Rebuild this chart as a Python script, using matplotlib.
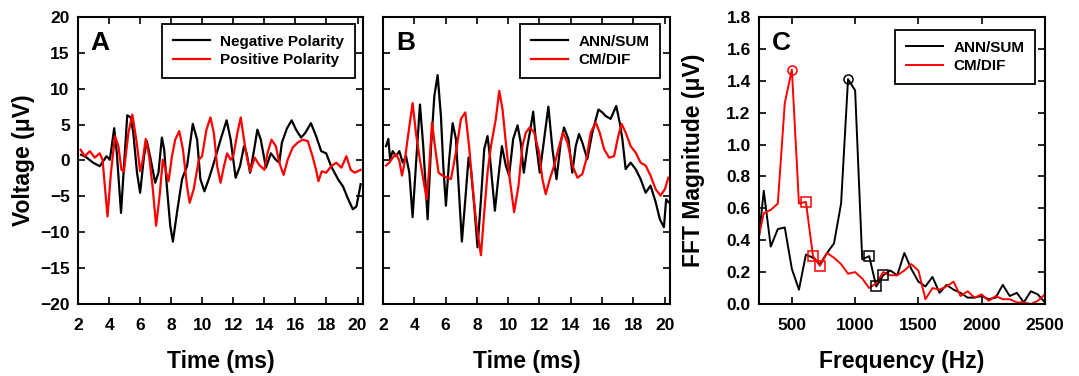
import matplotlib
matplotlib.use('Agg')
import matplotlib.pyplot as plt
import numpy as np

plt.rcParams['font.family'] = ['Liberation Sans', 'DejaVu Sans']
plt.rcParams['font.weight'] = 'bold'

# panel A: polarity waveforms (ms, uV)
t_neg = [2.2, 2.5, 2.97, 3.4, 3.84, 4.05, 4.33, 4.5, 4.77, 4.96, 5.17, 5.4, 5.56, 5.8,
         6.0, 6.25, 6.43, 6.64, 6.97, 7.18, 7.4, 7.55, 7.72, 7.94, 8.11, 8.37, 8.7,
         9.02, 9.39, 9.67, 9.88, 10.14, 10.42, 10.75, 11.18, 11.57, 11.83, 12.15,
         12.43, 12.69, 12.86, 13.08, 13.34, 13.55, 13.77, 14.1, 14.42, 14.74, 14.96,
         15.13, 15.46, 15.76, 16.04, 16.36, 16.62, 17.0, 17.33, 17.66, 17.98, 18.3,
         18.74, 19.06, 19.4, 19.7, 19.93, 20.2]
v_neg = [0.8, 0.5, -0.3, -0.8, 0.6, 0.1, 4.5, 1.0, -7.3, -0.8, 6.3, 6.0, 3.8, -1.7,
         -4.5, 0.6, 2.7, 0.6, -3.1, -1.7, 3.2, 1.5, -3.6, -9.1, -11.3, -7.3, -2.6,
         -0.8, 5.1, 2.9, -2.6, -4.3, -2.6, -0.3, 2.9, 5.6, 2.9, -2.4,
         -0.8, 2.0, 1.0, -1.7, 1.5, 4.3, 2.9, -1.0, 1.0, 0.1, -0.3,
         2.5, 4.5, 5.6, 4.3, 3.2, 3.8, 5.2, 3.4, 1.3, 1.0, -0.8,
         -2.6, -3.6, -5.4, -6.8, -6.4, -3.3]
t_pos = [2.17, 2.43, 2.76, 3.08, 3.4, 3.58, 3.73, 3.9, 4.12, 4.38, 4.6, 4.8, 4.96,
         5.24, 5.5, 5.78, 6.0, 6.17, 6.36, 6.58, 6.8, 7.03, 7.25, 7.46, 7.68, 7.83,
         8.05, 8.26, 8.52, 8.76, 9.02, 9.19, 9.45, 9.78, 9.99, 10.27, 10.53, 10.75,
         10.96, 11.18, 11.4, 11.6, 11.83, 12.0, 12.26, 12.48, 12.69, 12.9, 13.1,
         13.38, 13.66, 14.0, 14.2, 14.46, 14.74, 14.96, 15.24, 15.5, 15.82, 16.15,
         16.47, 16.8, 17.1, 17.33, 17.48, 17.7, 17.98, 18.3, 18.63, 18.96, 19.28,
         19.56, 19.82, 20.2]
v_pos = [1.5, 0.6, 1.3, 0.4, 1.0, 0.1, -3.6, -7.8, -1.7, 3.4, 2.0, -1.3, -1.5,
         3.8, 6.4, 2.5, -1.5, 0.1, 3.0, 0.6, -3.6, -9.1, -5.0, 0.1, -1.7, -2.9,
         0.6, 2.9, 4.1, 1.5, -3.6, -5.9, -4.0, 0.1, 0.6, 4.3, 6.0, 3.8,
         -0.8, -3.1, -0.8, 1.0, 0.1, 0.6, 3.8, 6.0, 2.9, 0.1, -1.5,
         0.4, -0.6, -1.3, 1.0, 2.9, 2.0, -0.3, -2.0, 0.1, 1.8, 2.5,
         2.9, 2.7, 0.6, -1.3, -2.9, -1.5, -1.7, -0.8, -0.3, -1.0, 0.6,
         -1.3, -1.7, -1.3]

# panel B: ANN/SUM and CM/DIF waveforms
t_sum = [2.19, 2.34, 2.45, 2.62, 2.83, 3.04, 3.26, 3.47, 3.68, 3.89, 4.1, 4.36, 4.57,
         4.85, 5.06, 5.28, 5.49, 5.7, 5.85, 6.02, 6.23, 6.45, 6.66, 6.83, 7.04, 7.26,
         7.47, 7.62, 7.83, 8.04, 8.26, 8.47, 8.68, 8.83, 9.0, 9.15, 9.36, 9.6, 9.85,
         10.06, 10.32, 10.6, 10.8, 11.0, 11.23, 11.4, 11.6, 11.8, 12.02, 12.3, 12.57,
         12.83, 13.09, 13.36, 13.57, 13.85, 14.1, 14.32, 14.53, 14.74, 15.06, 15.38,
         15.77, 16.02, 16.23, 16.55, 16.91, 17.13, 17.3, 17.51, 17.83, 18.15, 18.47,
         18.79, 19.1, 19.43, 19.7, 19.96, 20.1, 20.24]
v_sum = [2.0, 3.0, 0.2, 1.3, 0.6, 1.3, -0.3, 0.6, -1.7, -7.9, -0.7, 7.8, 2.0,
         -8.2, 1.6, 9.0, 11.9, 6.2, -0.7, -6.3, 0.2, 5.2, 3.0, -3.5, -11.3, -5.4,
         0.4, -1.2, -6.3, -12.1, -5.4, 1.6, 3.4, 0.6, -3.5, -7.0, -2.6, 2.0, -0.7,
         -2.1, 3.0, 4.9, 2.5, -1.7, 2.0, 4.1, 6.8, 2.0, -1.7, 3.0, 7.5,
         1.6, -2.6, 2.5, 4.6, 3.0, -1.7, 2.0, 3.7, 2.5, 0.2, 3.9,
         7.1, 6.7, 6.2, 5.8, 7.6, 5.3, 3.0, -1.2, -0.3, -1.2, -2.6,
         -4.5, -3.5, -5.8, -8.2, -9.3, -5.4, -5.8]
t_dif = [2.19, 2.4, 2.62, 2.83, 3.04, 3.21, 3.36, 3.57, 3.89, 4.1, 4.32, 4.57, 4.79,
         4.96, 5.13, 5.34, 5.55, 5.8, 6.13, 6.34, 6.66, 6.98, 7.26, 7.5, 7.72, 7.98,
         8.26, 8.47, 8.68, 8.9, 9.21, 9.43, 9.64, 9.85, 10.1, 10.38, 10.66, 10.91,
         11.13, 11.38, 11.66, 11.98, 12.19, 12.4, 12.66, 12.94, 13.26, 13.51, 13.79,
         14.11, 14.43, 14.74, 15.0, 15.28, 15.6, 15.85, 16.13, 16.45, 16.77, 17.04,
         17.25, 17.51, 17.83, 18.15, 18.47, 18.79, 19.1, 19.43, 19.74, 20.02, 20.24]
v_dif = [-0.7, -0.3, 0.4, 0.9, 0.0, -2.1, -0.5, 3.0, 8.0, 3.9, 0.6, -2.6, -5.4,
         -0.7, 5.3, 1.6, -1.7, -2.1, -2.4, -2.6, 1.1, 5.8, 6.7, 2.0, -3.5, -9.1,
         -13.2, -7.2, -1.7, 2.0, 5.8, 9.7, 7.1, 2.5, -2.6, -7.2, -3.5, 2.0,
         3.9, 4.6, 3.9, 1.1, -2.6, -4.7, -2.6, -0.7, 2.0, 3.9, 2.5,
         -0.7, -2.4, -1.9, 0.2, 3.9, 5.3, 3.9, 1.6, 0.4, 0.6, 3.4,
         5.1, 3.9, 2.0, 1.1, -0.3, -0.7, -2.1, -4.0, -4.9, -4.0, -2.4]

# panel C: FFT magnitudes (Hz, uV)
freq = [222, 278, 333, 389, 444, 500, 556, 611, 667, 722, 778, 833, 889, 944, 1000,
        1056, 1111, 1167, 1222, 1278, 1333, 1389, 1444, 1500, 1556, 1611, 1667, 1722,
        1778, 1833, 1889, 1944, 2000, 2056, 2111, 2167, 2222, 2278, 2333, 2389, 2444,
        2500]
fft_sum = [0.28, 0.71, 0.36, 0.47, 0.48, 0.22, 0.09, 0.31, 0.29, 0.25, 0.32, 0.38,
           0.63, 1.41, 1.34, 0.28, 0.30, 0.11, 0.18, 0.21, 0.18, 0.32, 0.22, 0.14,
           0.11, 0.17, 0.07, 0.12, 0.09, 0.07, 0.04, 0.04, 0.05, 0.03, 0.04, 0.12,
           0.05, 0.07, 0.01, 0.08, 0.06, 0.01]
fft_dif = [0.36, 0.57, 0.59, 0.63, 1.26, 1.47, 0.63, 0.64, 0.30, 0.24, 0.32, 0.29,
           0.25, 0.19, 0.20, 0.16, 0.10, 0.13, 0.20, 0.18, 0.18, 0.21, 0.25, 0.21,
           0.03, 0.10, 0.09, 0.11, 0.14, 0.05, 0.08, 0.04, 0.06, 0.02, 0.05, 0.03,
           0.03, 0.01, 0.01, 0.00, 0.02, 0.06]
peak_sum = [13]
side_sum = [16, 17, 18]
peak_dif = [5]
side_dif = [7, 8, 9]


def style_axes(ax):
    ax.tick_params(direction='in', top=True, right=True, length=5, width=1.2,
                   labelsize=12.5, pad=6)
    ax.tick_params(axis='x', pad=10)
    for s in ax.spines.values():
        s.set_linewidth(1.5)
    for lab in ax.get_xticklabels() + ax.get_yticklabels():
        lab.set_fontweight('bold')


def add_legend(ax, anchor):
    leg = ax.legend(loc='upper right', bbox_to_anchor=anchor, borderaxespad=0,
                    fancybox=False, framealpha=1, edgecolor='black',
                    handlelength=2.4, handletextpad=0.7, labelspacing=0.3,
                    borderpad=0.7, prop={'weight': 'bold', 'size': 11})
    leg.get_frame().set_linewidth(1.3)


fig = plt.figure(figsize=(10.79, 3.76), dpi=100)
axA = fig.add_axes([0.0723, 0.1915, 0.2641, 0.7633])
axB = fig.add_axes([0.355, 0.1915, 0.266, 0.7633])
axC = fig.add_axes([0.7034, 0.1915, 0.265, 0.7633])

lw = 1.6
axA.plot(t_neg, v_neg, color='black', lw=lw, label='Negative Polarity')
axA.plot(t_pos, v_pos, color='red', lw=lw, label='Positive Polarity')
axB.plot(t_sum, v_sum, color='black', lw=lw, label='ANN/SUM')
axB.plot(t_dif, v_dif, color='red', lw=lw, label='CM/DIF')

for ax in (axA, axB):
    ax.set_xlim(2, 20.35)
    ax.set_ylim(-20, 20)
    ax.set_xticks(np.arange(2, 21, 2))
    ax.set_yticks(np.arange(-20, 21, 5))
    ax.set_xlabel('Time (ms)', fontsize=16.5, fontweight='bold', labelpad=12)
axB.set_yticklabels([])
axA.set_ylabel('Voltage (\u03bcV)', fontsize=16.5, fontweight='bold')
axA.yaxis.set_label_coords(-0.15, 0.5)

axC.plot(freq, fft_sum, color='black', lw=1.4, label='ANN/SUM')
axC.plot(freq, fft_dif, color='red', lw=1.4, label='CM/DIF')
fs = np.array(freq)
axC.plot(fs[peak_sum], np.array(fft_sum)[peak_sum], 'o', mfc='none', mec='black', ms=6.5, mew=1.1)
axC.plot(fs[side_sum], np.array(fft_sum)[side_sum], 's', mfc='none', mec='black', ms=6.5, mew=1.1)
axC.plot(fs[peak_dif], np.array(fft_dif)[peak_dif], 'o', mfc='none', mec='red', ms=6.5, mew=1.1)
axC.plot(fs[side_dif], np.array(fft_dif)[side_dif], 's', mfc='none', mec='red', ms=6.5, mew=1.1)
axC.set_xlim(240, 2500)
axC.set_ylim(0, 1.8)
axC.set_xticks([500, 1000, 1500, 2000, 2500])
axC.set_yticks(np.arange(0, 1.81, 0.2))
axC.yaxis.set_major_formatter(matplotlib.ticker.FormatStrFormatter('%.1f'))
axC.set_xlabel('Frequency (Hz)', fontsize=16.5, fontweight='bold', labelpad=12)
axC.set_ylabel('FFT Magnitude (\u03bcV)', fontsize=16.5, fontweight='bold')
axC.yaxis.set_label_coords(-0.19, 0.5)

for ax in (axA, axB, axC):
    style_axes(ax)

add_legend(axA, (0.972, 0.976))
add_legend(axB, (0.965, 0.976))
add_legend(axC, (0.965, 0.955))

for ax, letter in ((axA, 'A'), (axB, 'B'), (axC, 'C')):
    ax.text(0.045, 0.91, letter, transform=ax.transAxes, fontsize=19,
            fontweight='bold', ha='left', va='center')

fig.savefig('out.png', dpi=100)
